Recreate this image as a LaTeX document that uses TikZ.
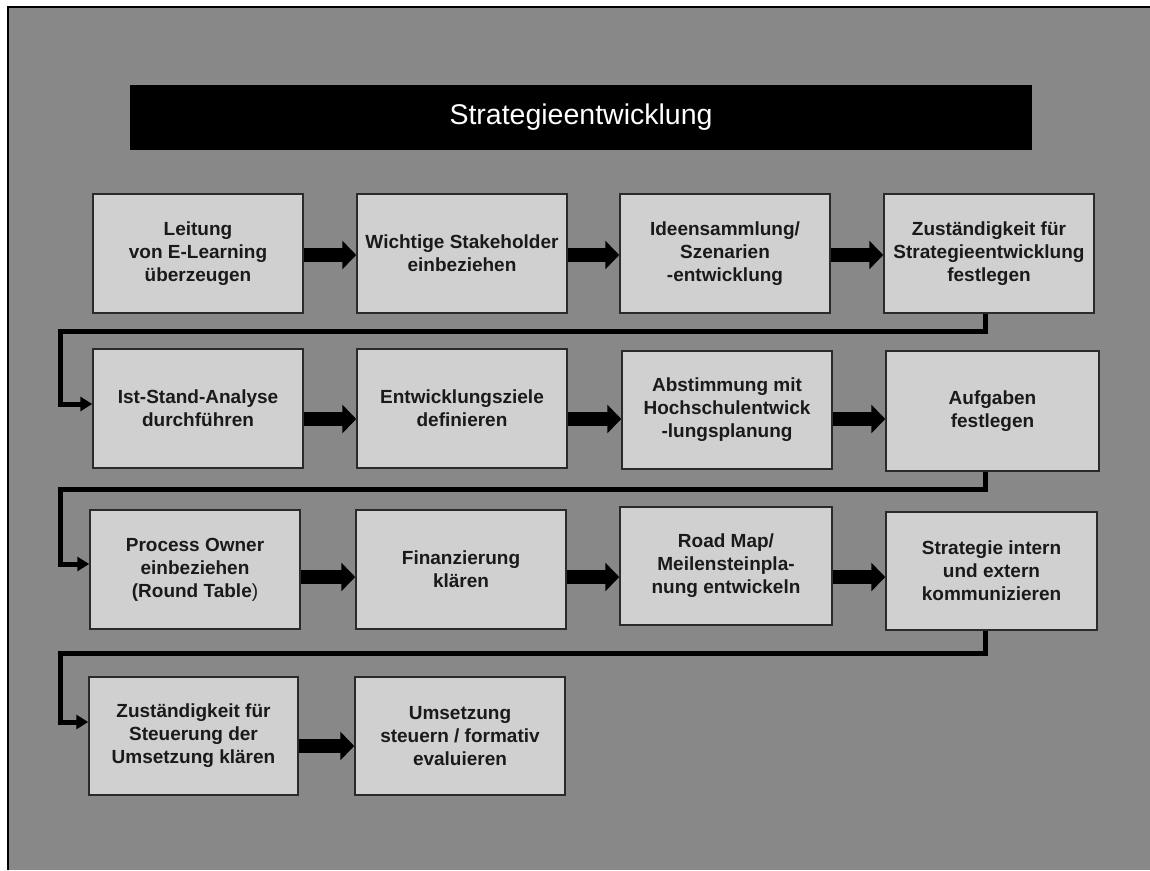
\documentclass[tikz,border=0pt]{standalone}
\usepackage{fontspec}
\setmainfont{Liberation Sans}
\usetikzlibrary{arrows.meta}
\definecolor{bggray}{HTML}{888888}
\definecolor{boxgray}{HTML}{D0D0D0}
\definecolor{boxline}{HTML}{2A2A2A}
\definecolor{inktext}{HTML}{1A1A1A}
\tikzset{
  stepbox/.style={draw=boxline, line width=1.5pt, fill=boxgray,
    minimum width=210pt, minimum height=119pt, inner sep=0pt,
    align=center, text=inktext,
    font=\bfseries\fontsize{19}{23}\selectfont},
  flowarrow/.style={line width=14pt, -{Triangle[length=14pt,width=28pt]}},
  rowlink/.style={line width=5pt, -{Triangle[length=12pt,width=14pt]}},
}
\begin{document}
\begin{tikzpicture}[x=1pt, y=-1pt]
  \useasboundingbox (0,0) rectangle (1150,870);
  % page and frame
  \fill[white] (0,0) rectangle (1150,870);
  \fill[bggray] (7,6) rectangle (1150,870);
  \draw[black, line width=2pt] (7.5,870) -- (7.5,6.5) -- (1150,6.5);

  % heading bar
  \node[fill=black, minimum width=902pt, minimum height=65pt, inner sep=0pt,
        text=white, font=\fontsize{28.5}{34}\selectfont]
        (title) at (581,117.5) {Strategieentwicklung};

  % row 1
  \node[stepbox] (b1) at (198,253.5) {Leitung\\von E-Learning\\überzeugen};
  \node[stepbox] (b2) at (462,253.5) {Wichtige Stakeholder\\einbeziehen};
  \node[stepbox] (b3) at (725,253.5) {Ideensammlung/\\Szenarien\\-entwicklung};
  \node[stepbox] (b4) at (989,253.5) {Zuständigkeit für\\Strategieentwicklung\\festlegen};

  % row 2
  \node[stepbox] (b5) at (198,408.5) {Ist-Stand-Analyse\\durchführen};
  \node[stepbox] (b6) at (462,408.5) {Entwicklungsziele\\definieren};
  \node[stepbox, minimum height=118pt] (b7) at (727,410) {Abstimmung mit\\Hochschulentwick\\-lungsplanung};
  \node[stepbox, minimum width=213pt, minimum height=120pt] (b8) at (992.5,411) {Aufgaben\\festlegen};

  % row 3
  \node[stepbox] (b9) at (195,569.5) {Process Owner\\einbeziehen\\(Round Table\textmd{)}};
  \node[stepbox] (b10) at (461,569.5) {Finanzierung\\klären};
  \node[stepbox, minimum width=212pt, minimum height=118pt] (b11) at (726,566) {Road Map/\\Meilensteinpla-\\nung entwickeln};
  \node[stepbox, minimum width=211pt, minimum height=118pt] (b12) at (991.5,571) {Strategie intern\\und extern\\kommunizieren};

  % row 4
  \node[stepbox, minimum width=209pt, minimum height=118pt] (b13) at (193.5,736) {Zuständigkeit für\\Steuerung der\\Umsetzung klären};
  \node[stepbox, minimum height=118pt] (b14) at (460,736) {Umsetzung\\steuern / formativ\\evaluieren};

  % arrows within the rows
  \draw[flowarrow] ([yshift=-1.5pt]b1.east) -- ([yshift=-1.5pt]b1.east -| b2.west);
  \draw[flowarrow] ([yshift=-1.5pt]b2.east) -- ([yshift=-1.5pt]b2.east -| b3.west);
  \draw[flowarrow] ([yshift=-1.5pt]b3.east) -- ([yshift=-1.5pt]b3.east -| b4.west);

  \draw[flowarrow] ([yshift=-10.5pt]b5.east) -- ([yshift=-10.5pt]b5.east -| b6.west);
  \draw[flowarrow] ([yshift=-10.5pt]b6.east) -- ([yshift=-10.5pt]b6.east -| b7.west);
  \draw[flowarrow] ([yshift=-9pt]b7.east) -- ([yshift=-9pt]b7.east -| b8.west);

  \draw[flowarrow] ([yshift=-7.5pt]b9.east) -- ([yshift=-7.5pt]b9.east -| b10.west);
  \draw[flowarrow] ([yshift=-7.5pt]b10.east) -- ([yshift=-7.5pt]b10.east -| b11.west);
  \draw[flowarrow] ([yshift=-11pt]b11.east) -- ([yshift=-11pt]b11.east -| b12.west);

  \draw[flowarrow] ([yshift=-10pt]b13.east) -- ([yshift=-10pt]b13.east -| b14.west);

  % links from the end of one row to the start of the next
  \coordinate (k1) at (60,331);
  \coordinate (k2) at (60,489);
  \coordinate (k3) at (60,653);
  \draw[rowlink] ([xshift=-4pt]b4.south) |- (k1) |- ([yshift=4.5pt]b5.west);
  \draw[rowlink] ([xshift=-7.5pt]b8.south) |- (k2) |- ([yshift=5.5pt]b9.west);
  \draw[rowlink] ([xshift=-6.5pt]b12.south) |- (k3) |- ([yshift=14pt]b13.west);
\end{tikzpicture}
\end{document}
